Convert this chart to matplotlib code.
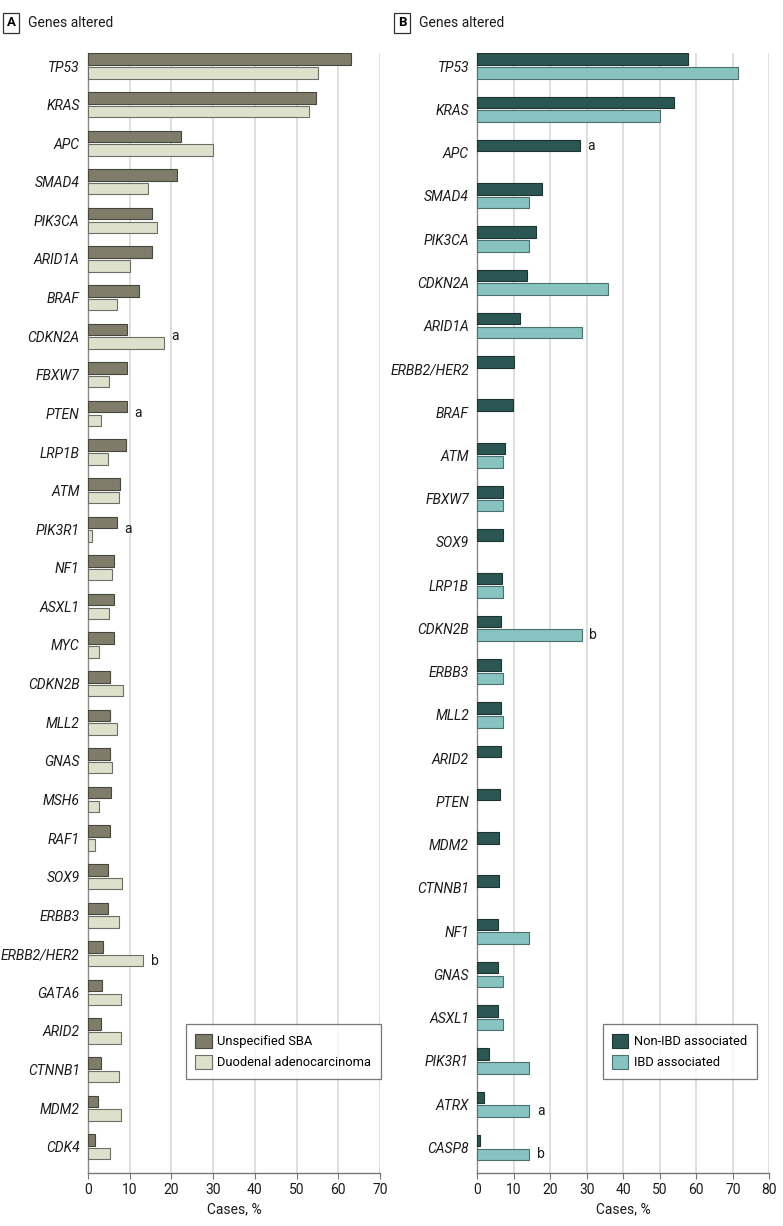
import numpy as np
import matplotlib
matplotlib.use("Agg")
import matplotlib.pyplot as plt
from matplotlib.patches import Patch

plt.rcParams['font.family'] = ['Roboto', 'DejaVu Sans']

# panel A: unspecified SBA vs duodenal adenocarcinoma
genes_a = ["TP53", "KRAS", "APC", "SMAD4", "PIK3CA", "ARID1A", "BRAF", "CDKN2A",
           "FBXW7", "PTEN", "LRP1B", "ATM", "PIK3R1", "NF1", "ASXL1", "MYC",
           "CDKN2B", "MLL2", "GNAS", "MSH6", "RAF1", "SOX9", "ERBB3",
           "ERBB2/HER2", "GATA6", "ARID2", "CTNNB1", "MDM2", "CDK4"]
unspecified_sba = [63.0, 54.6, 22.2, 21.4, 15.4, 15.3, 12.2, 9.3, 9.3, 9.3, 9.1,
                   7.6, 6.9, 6.2, 6.2, 6.2, 5.3, 5.3, 5.3, 5.4, 5.3, 4.7, 4.7,
                   3.7, 3.4, 3.0, 3.0, 2.4, 1.6]
duodenal = [55.1, 52.9, 29.9, 14.3, 16.5, 10.0, 6.9, 18.1, 5.1, 3.2, 4.8, 7.4,
            0.9, 5.8, 5.1, 2.6, 8.5, 6.9, 5.8, 2.7, 1.6, 8.1, 7.5, 13.3, 7.8,
            8.0, 7.5, 8.0, 5.3]
marks_a = [("CDKN2A", "a", "mid"), ("PTEN", "a", "mid"),
           ("PIK3R1", "a", "mid"), ("ERBB2/HER2", "b", "second")]

# panel B: non-IBD vs IBD associated
genes_b = ["TP53", "KRAS", "APC", "SMAD4", "PIK3CA", "CDKN2A", "ARID1A",
           "ERBB2/HER2", "BRAF", "ATM", "FBXW7", "SOX9", "LRP1B", "CDKN2B",
           "ERBB3", "MLL2", "ARID2", "PTEN", "MDM2", "CTNNB1", "NF1", "GNAS",
           "ASXL1", "PIK3R1", "ATRX", "CASP8"]
non_ibd = [57.6, 53.8, 28.0, 17.6, 16.2, 13.5, 11.6, 10.1, 9.7, 7.6, 7.0, 7.0,
           6.7, 6.4, 6.4, 6.4, 6.5, 6.1, 6.0, 5.9, 5.8, 5.8, 5.8, 3.3, 1.7, 0.8]
ibd = [71.4, 50.0, None, 14.3, 14.3, 35.7, 28.6, None, None, 7.1, 7.1, None,
       7.1, 28.6, 7.1, 7.1, None, None, None, None, 14.3, 7.1, 7.1, 14.3,
       14.3, 14.3]
marks_b = [("APC", "a", "first"), ("CDKN2B", "b", "second"),
           ("ATRX", "a", "second"), ("CASP8", "b", "second")]

W, H = 783, 1226
FS = 10


def frac(l, t, r, b):
    return [l / W, 1 - b / H, (r - l) / W, (b - t) / H]


def panel(rect, genes, s1, s2, names, colors, edges, xmax, marks,
          spacing, legend_box):
    ax = fig.add_axes(rect)
    n = len(genes)
    y = np.arange(n)
    h = 11.5 / spacing
    off = 6.85 / spacing
    v1 = np.array([np.nan if v is None else v for v in s1], dtype=float)
    v2 = np.array([np.nan if v is None else v for v in s2], dtype=float)
    ax.barh(y - off, np.nan_to_num(v1), height=h, color=colors[0],
            edgecolor=edges[0], linewidth=0.8, zorder=3)
    ok = ~np.isnan(v2)
    ax.barh(y[ok] + off, v2[ok], height=h, color=colors[1],
            edgecolor=edges[1], linewidth=0.8, zorder=3)

    ax.set_ylim((1173 - 66) / spacing, -12.7 / spacing)
    ax.set_xlim(0, xmax)
    ax.set_xticks(np.arange(0, xmax + 1, 10))
    ax.set_yticks(y)
    ax.set_yticklabels(genes, style='italic', fontsize=FS, color='#1a1a1a')
    ax.tick_params(axis='y', length=0, pad=6)
    ax.tick_params(axis='x', length=4, width=0.8, color='#777777',
                   labelsize=FS, pad=3, labelcolor='#1a1a1a')
    ax.xaxis.grid(True, color='#d9d9d9', linewidth=1.2, zorder=0)
    ax.set_axisbelow(True)
    for s in ['top', 'right']:
        ax.spines[s].set_visible(False)
    ax.spines['left'].set_color('#8a8a8a')
    ax.spines['bottom'].set_color('#777777')
    ax.spines['left'].set_linewidth(1.0)
    ax.spines['bottom'].set_linewidth(1.0)
    ax.set_xlabel("Cases, %", fontsize=FS, labelpad=4, color='#1a1a1a')

    for gene, txt, where in marks:
        i = genes.index(gene)
        a = 0 if np.isnan(v1[i]) else v1[i]
        b = 0 if np.isnan(v2[i]) else v2[i]
        if where == "mid":
            xv, yv = max(a, b), i
        elif where == "first":
            xv, yv = a, i - off
        else:
            xv, yv = b, i + off
        ax.annotate(txt, xy=(xv, yv), xytext=(5.5, 0),
                    textcoords='offset points', va='center', ha='left',
                    fontsize=FS, color='#1a1a1a')

    handles = [Patch(facecolor=colors[0], edgecolor=edges[0], linewidth=0.8),
               Patch(facecolor=colors[1], edgecolor=edges[1], linewidth=0.8)]
    leg = ax.legend(handles, names, loc='lower right',
                    bbox_to_anchor=legend_box, bbox_transform=fig.transFigure,
                    fontsize=9.3, frameon=True, fancybox=False,
                    handlelength=1.25, handleheight=1.25, handletextpad=0.45,
                    borderpad=0.75, labelspacing=0.55, borderaxespad=0)
    leg.get_frame().set_edgecolor('#555555')
    leg.get_frame().set_linewidth(0.9)
    return ax


fig = plt.figure(figsize=(W / 100, H / 100), dpi=100)

panel(frac(88, 53.3, 380, 1173), genes_a, unspecified_sba, duodenal,
      ["Unspecified SBA", "Duodenal adenocarcinoma"],
      ["#7f7d6a", "#dde0cb"], ["#46463c", "#6e6e66"], 70, marks_a,
      38.6, (381 / W, 1 - 1079 / H))
panel(frac(477.3, 53.3, 769.3, 1173), genes_b, non_ibd, ibd,
      ["Non-IBD associated", "IBD associated"],
      ["#2c5653", "#86c3c1"], ["#1c3432", "#4d6f6d"], 80, marks_b,
      43.26, (757 / W, 1 - 1079 / H))

for x0, letter in [(2, "A"), (393, "B")]:
    fig.text((x0 + 9) / W, 1 - 23 / H, letter, fontsize=9.5, fontweight='bold',
             ha='center', va='center',
             bbox=dict(boxstyle='square,pad=0.3', facecolor='white',
                       edgecolor='#333333', linewidth=0.9))
    fig.text((x0 + 26) / W, 1 - 23 / H, "Genes altered", fontsize=FS,
             ha='left', va='center', color='#1a1a1a')

fig.savefig("out.png", dpi=100)
